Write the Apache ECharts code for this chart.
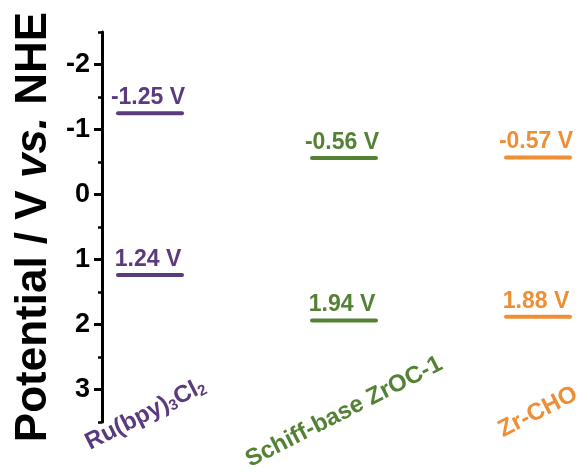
<!DOCTYPE html>
<html>
<head>
<meta charset="utf-8">
<script src="https://cdn.jsdelivr.net/npm/echarts@6/dist/echarts.min.js"></script>
<style>
  html, body { margin: 0; padding: 0; background: #fff; }
  #chart { width: 585px; height: 475px; }
</style>
</head>
<body>
<div id="chart"></div>
<script>
// Band-edge potentials (V vs. NHE) for each photocatalyst
const categories = ['Ru(bpy)3Cl2', 'Schiff-base ZrOC-1', 'Zr-CHO'];
const upperLevels = [-1.25, -0.56, -0.57];
const lowerLevels = [1.24, 1.94, 1.88];
const colors = ['#5B3A7D', '#548235', '#EE8E35'];
const majorTicks = [-2, -1, 0, 1, 2, 3];
const axisMin = -2.5;
const axisMax = 3.5;

const FONT = '"Liberation Sans", Arial, Helvetica, sans-serif';

const levelData = [];
categories.forEach(function (c, i) {
  levelData.push([i, upperLevels[i]]);
  levelData.push([i, lowerLevels[i]]);
});

function renderLevel(params, api) {
  const i = api.value(0);
  const v = api.value(1);
  const p = api.coord([i, v]);
  const half = 32;
  const col = colors[i];
  return {
    type: 'group',
    children: [
      {
        type: 'line',
        shape: { x1: p[0] - half, y1: p[1], x2: p[0] + half, y2: p[1] },
        style: { stroke: col, lineWidth: 4, lineCap: 'round' }
      },
      {
        type: 'text',
        x: p[0] - 2,
        y: p[1] - 4,
        style: {
          text: v.toFixed(2) + ' V',
          fill: col,
          font: 'bold 23px ' + FONT,
          align: 'center',
          verticalAlign: 'bottom'
        }
      }
    ]
  };
}

function categoryLabel(value, idx) {
  if (idx === 0) return '{p|Ru(bpy)}{ps|3}{p|Cl}{ps|2}{gap|}';
  if (idx === 1) return '{g|' + value + '}';
  return '{o|' + value + '}';
}

const chart = echarts.init(document.getElementById('chart'), null, { renderer: 'canvas' });

chart.setOption({
  backgroundColor: '#ffffff',
  animation: false,
  grid: { left: 53, top: 32, width: 582, height: 390, containLabel: false, outerBoundsMode: 'none' },
  xAxis: {
    type: 'category',
    data: categories,
    boundaryGap: true,
    axisLine: { show: false },
    axisTick: { show: false },
    splitLine: { show: false },
    axisLabel: {
      interval: 0,
      rotate: 27,
      align: 'center',
      verticalAlign: 'middle',
      margin: -10,
      formatter: categoryLabel,
      rich: {
        p: { color: colors[0], fontSize: 24, fontWeight: 'bold', fontFamily: FONT },
        ps: { color: colors[0], fontSize: 15, fontWeight: 'bold', fontFamily: FONT, verticalAlign: 'bottom', padding: [10, 0, 0, 0] },
        gap: { width: 10 },
        g: { color: colors[1], fontSize: 24, fontWeight: 'bold', fontFamily: FONT },
        o: { color: colors[2], fontSize: 24, fontWeight: 'bold', fontFamily: FONT }
      }
    }
  },
  yAxis: [
    {
      type: 'value',
      position: 'left',
      inverse: true,
      min: axisMin,
      max: axisMax,
      offset: -49,
      axisLine: { show: true, lineStyle: { color: '#000', width: 3 } },
      axisTick: { show: true, customValues: majorTicks, length: 8, lineStyle: { color: '#000', width: 3 } },
      axisLabel: {
        customValues: majorTicks,
        color: '#000',
        fontSize: 27,
        fontWeight: 'bold',
        fontFamily: FONT,
        margin: 12,
        formatter: function (v) { return Number.isInteger(v) ? String(v) : ''; }
      },
      splitLine: { show: false },
      name: '{a|Potential / V }{b|vs.}{a| NHE}',
      nameLocation: 'middle',
      nameGap: 46,
      nameMoveOverlap: false,
      nameTextStyle: {
        rich: {
          a: { fontSize: 44, fontWeight: 'bold', color: '#000', fontFamily: FONT },
          b: { fontSize: 44, fontWeight: 'bold', fontStyle: 'italic', color: '#000', fontFamily: FONT }
        }
      }
    },
    {
      type: 'value',
      position: 'left',
      inverse: true,
      min: axisMin,
      max: axisMax,
      interval: 0.5,
      offset: -49,
      axisLine: { show: false },
      axisTick: { show: true, length: 4, lineStyle: { color: '#000', width: 2.5 } },
      axisLabel: { show: false },
      splitLine: { show: false }
    }
  ],
  series: [
    {
      type: 'custom',
      renderItem: renderLevel,
      data: levelData,
      clip: false,
      encode: { x: 0, y: 1 }
    }
  ]
});
</script>
</body>
</html>
